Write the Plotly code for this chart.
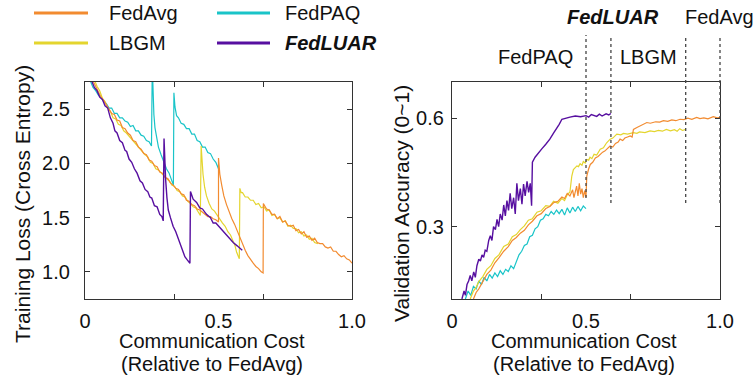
import plotly.graph_objects as go

# ---------------- data ----------------
methods = ["FedAvg", "FedPAQ", "LBGM", "FedLUAR"]
colors = {"FedAvg": "#F28B30", "FedPAQ": "#19C4C8", "LBGM": "#E4D52E", "FedLUAR": "#570FA0"}

# Training loss vs communication cost (left panel)
loss_fedavg_x = [0.030, 0.040, 0.050, 0.060, 0.070, 0.080, 0.090, 0.100, 0.110, 0.120, 0.130, 0.140, 0.150, 0.160,
                 0.170, 0.180, 0.190, 0.200, 0.210, 0.220, 0.230, 0.240, 0.250, 0.260, 0.270, 0.280, 0.290, 0.300,
                 0.310, 0.320, 0.330, 0.340, 0.350, 0.360, 0.370, 0.380, 0.390, 0.400, 0.410, 0.420, 0.430, 0.440,
                 0.450, 0.460, 0.470, 0.480, 0.490, 0.500,
                 0.500, 0.505, 0.512, 0.520, 0.530, 0.540, 0.550, 0.560, 0.570, 0.580, 0.590, 0.600, 0.610, 0.620,
                 0.630, 0.640, 0.650, 0.660, 0.667,
                 0.668, 0.680, 0.690, 0.700, 0.710, 0.720, 0.730, 0.740, 0.750, 0.760, 0.770, 0.780, 0.790, 0.800,
                 0.810, 0.820, 0.830, 0.840, 0.850, 0.860, 0.870, 0.880, 0.890, 0.900, 0.910, 0.920, 0.930, 0.940,
                 0.950, 0.960, 0.970, 0.980, 0.990, 1.000]
loss_fedavg_y = [2.76, 2.71, 2.67, 2.61, 2.58, 2.54, 2.51, 2.46, 2.45, 2.40, 2.39, 2.33, 2.32, 2.28,
                 2.26, 2.21, 2.20, 2.15, 2.13, 2.09, 2.08, 2.03, 2.02, 1.98, 1.97, 1.92, 1.91, 1.87,
                 1.86, 1.82, 1.80, 1.77, 1.76, 1.72, 1.71, 1.66, 1.65, 1.62, 1.61, 1.58, 1.57, 1.55,
                 1.53, 1.51, 1.51, 1.49, 1.48, 1.46,
                 2.05, 1.90, 1.80, 1.70, 1.62, 1.55, 1.49, 1.44, 1.38, 1.31, 1.26, 1.20, 1.15, 1.11,
                 1.08, 1.05, 1.03, 1.00, 0.99,
                 1.63, 1.58, 1.57, 1.53, 1.53, 1.49, 1.51, 1.46, 1.47, 1.43, 1.42, 1.43, 1.38, 1.39,
                 1.35, 1.37, 1.32, 1.33, 1.29, 1.31, 1.27, 1.26, 1.26, 1.23, 1.22, 1.23, 1.19, 1.19,
                 1.16, 1.14, 1.15, 1.12, 1.11, 1.08]

loss_fedpaq_x = [0.020, 0.030, 0.040, 0.050, 0.060, 0.070, 0.080, 0.090, 0.100, 0.110, 0.120, 0.130, 0.140,
                 0.150, 0.160, 0.170, 0.180, 0.190, 0.200, 0.210, 0.220, 0.230, 0.240, 0.249,
                 0.252, 0.255, 0.258, 0.262, 0.268, 0.275, 0.285, 0.295, 0.305, 0.315, 0.325, 0.331,
                 0.333, 0.337, 0.343, 0.350, 0.360, 0.370, 0.380, 0.390, 0.400, 0.410, 0.420, 0.430,
                 0.440, 0.450, 0.460, 0.470, 0.480, 0.490, 0.500]
loss_fedpaq_y = [2.76, 2.70, 2.67, 2.63, 2.61, 2.57, 2.55, 2.51, 2.51, 2.46, 2.46, 2.42, 2.42,
                 2.39, 2.38, 2.34, 2.35, 2.30, 2.30, 2.26, 2.25, 2.21, 2.20, 2.16,
                 2.90, 2.55, 2.45, 2.33, 2.23, 2.15, 2.08, 2.02, 1.95, 1.91, 1.84, 1.80,
                 2.65, 2.52, 2.44, 2.42, 2.37, 2.36, 2.32, 2.32, 2.27, 2.27, 2.21, 2.20,
                 2.15, 2.15, 2.10, 2.09, 2.04, 2.01, 1.95]

loss_lbgm_x = [0.037, 0.045, 0.055, 0.065, 0.075, 0.085, 0.095, 0.105, 0.115, 0.125, 0.135, 0.145, 0.155,
               0.165, 0.175, 0.185, 0.195, 0.205, 0.215, 0.225, 0.235, 0.245, 0.255, 0.265, 0.275, 0.285,
               0.295, 0.305, 0.315, 0.325, 0.335, 0.345, 0.355, 0.365, 0.375, 0.385, 0.395, 0.405, 0.415,
               0.425, 0.432,
               0.435, 0.438, 0.442, 0.448, 0.455, 0.465, 0.475, 0.485, 0.495, 0.505, 0.515, 0.525, 0.535,
               0.545, 0.555, 0.562, 0.568, 0.574, 0.578,
               0.580, 0.585, 0.590, 0.600, 0.610, 0.620, 0.630, 0.640, 0.650, 0.660, 0.670, 0.680, 0.690,
               0.700, 0.710, 0.720, 0.730, 0.740, 0.750, 0.760, 0.770, 0.780, 0.790, 0.800, 0.810, 0.820,
               0.830, 0.840, 0.850, 0.860, 0.872]
loss_lbgm_y = [2.76, 2.71, 2.67, 2.60, 2.57, 2.51, 2.48, 2.42, 2.41, 2.36, 2.35, 2.30, 2.28,
               2.25, 2.22, 2.19, 2.17, 2.13, 2.11, 2.08, 2.06, 2.01, 2.00, 1.95, 1.94, 1.91,
               1.89, 1.86, 1.84, 1.80, 1.79, 1.75, 1.74, 1.70, 1.69, 1.65, 1.63, 1.60, 1.59,
               1.54, 1.52,
               2.16, 2.02, 1.90, 1.78, 1.70, 1.63, 1.58, 1.56, 1.52, 1.49, 1.45, 1.42, 1.37,
               1.34, 1.29, 1.24, 1.18, 1.14, 1.12,
               1.77, 1.73, 1.73, 1.69, 1.69, 1.66, 1.66, 1.62, 1.63, 1.59, 1.60, 1.56, 1.57,
               1.52, 1.53, 1.49, 1.50, 1.46, 1.47, 1.42, 1.43, 1.40, 1.40, 1.36, 1.37, 1.33,
               1.34, 1.30, 1.31, 1.27, 1.26]

loss_fedluar_x = [0.025, 0.035, 0.045, 0.055, 0.065, 0.075, 0.085, 0.095, 0.105, 0.112, 0.120, 0.130, 0.140,
                  0.150, 0.156, 0.165, 0.175, 0.185, 0.195, 0.206, 0.215, 0.225, 0.235, 0.243, 0.250, 0.260,
                  0.270, 0.280, 0.288, 0.293,
                  0.296, 0.299, 0.302, 0.307, 0.312, 0.320, 0.330, 0.340, 0.355, 0.365, 0.374, 0.383, 0.393,
                  0.395, 0.405, 0.418, 0.430, 0.440, 0.455, 0.470, 0.480, 0.490, 0.505, 0.520, 0.535, 0.555,
                  0.570, 0.580, 0.589]
loss_fedluar_y = [2.76, 2.70, 2.67, 2.61, 2.59, 2.53, 2.51, 2.42, 2.37, 2.30, 2.28, 2.21, 2.19,
                  2.12, 2.11, 2.04, 2.01, 1.95, 1.91, 1.84, 1.82, 1.76, 1.74, 1.69, 1.68, 1.61,
                  1.60, 1.53, 1.51, 1.47,
                  2.23, 2.00, 1.85, 1.68, 1.57, 1.50, 1.42, 1.37, 1.27, 1.20, 1.14, 1.11, 1.08,
                  1.74, 1.67, 1.64, 1.59, 1.58, 1.53, 1.50, 1.45, 1.45, 1.41, 1.37, 1.32, 1.27,
                  1.24, 1.22, 1.20]

# Validation accuracy vs communication cost (right panel)
acc_fedavg_x = [0.080, 0.090, 0.100, 0.115, 0.130, 0.145, 0.160, 0.175, 0.193, 0.210, 0.225, 0.240, 0.255,
                0.270, 0.285, 0.300, 0.317, 0.333, 0.350, 0.365, 0.379, 0.395, 0.410, 0.420, 0.430, 0.440,
                0.450, 0.455, 0.460, 0.465, 0.470, 0.475, 0.480, 0.485, 0.490, 0.495, 0.500,
                0.503, 0.510, 0.516, 0.525, 0.535, 0.545, 0.553, 0.562, 0.570, 0.580, 0.590, 0.600, 0.610,
                0.620, 0.627, 0.637, 0.645, 0.655, 0.665, 0.672, 0.677, 0.690, 0.700, 0.715, 0.727, 0.740,
                0.760, 0.775, 0.789, 0.805, 0.820, 0.835, 0.851, 0.865, 0.880, 0.895, 0.913, 0.925, 0.940,
                0.955, 0.975, 0.990, 1.000]
acc_fedavg_y = [0.100, 0.118, 0.128, 0.150, 0.168, 0.180, 0.200, 0.214, 0.232, 0.245, 0.262, 0.270, 0.282,
                0.290, 0.305, 0.315, 0.330, 0.336, 0.350, 0.356, 0.366, 0.370, 0.382, 0.378, 0.392, 0.385,
                0.402, 0.380, 0.395, 0.412, 0.385, 0.420, 0.390, 0.405, 0.380, 0.400, 0.382,
                0.440, 0.460, 0.472, 0.478, 0.490, 0.494, 0.500, 0.506, 0.509, 0.515, 0.523, 0.520, 0.530,
                0.534, 0.542, 0.538, 0.545, 0.548, 0.551, 0.548, 0.569, 0.574, 0.578, 0.582, 0.588, 0.586,
                0.590, 0.589, 0.593, 0.591, 0.595, 0.593, 0.597, 0.596, 0.600, 0.597, 0.602, 0.599, 0.601,
                0.598, 0.604, 0.601, 0.602]

acc_fedpaq_x = [0.050, 0.060, 0.070, 0.080, 0.090, 0.100, 0.110, 0.120, 0.130, 0.140, 0.150, 0.160, 0.170,
                0.180, 0.190, 0.200, 0.210, 0.220, 0.230, 0.240, 0.250, 0.260, 0.270, 0.280, 0.290, 0.300,
                0.310, 0.320, 0.330, 0.340, 0.350, 0.360, 0.370, 0.380, 0.390, 0.400, 0.410, 0.420, 0.430,
                0.440, 0.450, 0.460, 0.470, 0.480, 0.490, 0.500]
acc_fedpaq_y = [0.100, 0.122, 0.110, 0.135, 0.128, 0.150, 0.140, 0.160, 0.150, 0.168, 0.158, 0.172, 0.162,
                0.178, 0.168, 0.182, 0.176, 0.192, 0.184, 0.205, 0.222, 0.232, 0.248, 0.252, 0.272, 0.276,
                0.294, 0.300, 0.318, 0.322, 0.334, 0.330, 0.342, 0.334, 0.346, 0.336, 0.348, 0.332, 0.352,
                0.338, 0.354, 0.342, 0.356, 0.344, 0.357, 0.350]

acc_lbgm_x = [0.068, 0.080, 0.090, 0.100, 0.115, 0.130, 0.145, 0.160, 0.175, 0.193, 0.210, 0.225, 0.240,
              0.255, 0.270, 0.285, 0.300, 0.317, 0.333, 0.350, 0.365, 0.379, 0.395, 0.410, 0.420, 0.430,
              0.440, 0.447, 0.453, 0.460, 0.466, 0.472, 0.478, 0.485, 0.490, 0.497, 0.503, 0.510, 0.515,
              0.522, 0.530, 0.540, 0.553, 0.565, 0.577, 0.590, 0.600, 0.615, 0.630, 0.640, 0.655, 0.677,
              0.690, 0.700, 0.720, 0.739, 0.755, 0.770, 0.785, 0.800, 0.815, 0.830, 0.840, 0.850, 0.860,
              0.872]
acc_lbgm_y = [0.100, 0.122, 0.132, 0.148, 0.162, 0.182, 0.192, 0.212, 0.222, 0.245, 0.252, 0.272, 0.278,
              0.292, 0.302, 0.318, 0.322, 0.340, 0.344, 0.358, 0.356, 0.370, 0.365, 0.378, 0.372, 0.388,
              0.396, 0.440, 0.458, 0.462, 0.468, 0.466, 0.474, 0.470, 0.480, 0.476, 0.486, 0.484, 0.492,
              0.488, 0.500, 0.498, 0.514, 0.518, 0.532, 0.542, 0.545, 0.556, 0.554, 0.558, 0.556, 0.560,
              0.558, 0.562, 0.560, 0.565, 0.563, 0.566, 0.564, 0.569, 0.565, 0.568, 0.564, 0.571, 0.566,
              0.569]

acc_fedluar_x = [0.037, 0.045, 0.050, 0.056, 0.062, 0.068, 0.074, 0.081, 0.087, 0.093, 0.100, 0.106, 0.112,
                 0.118, 0.124, 0.130, 0.137, 0.143, 0.149, 0.155, 0.162, 0.168, 0.174, 0.180, 0.187, 0.193,
                 0.199, 0.205, 0.211, 0.217, 0.223, 0.230, 0.236, 0.242, 0.248, 0.255, 0.261, 0.267, 0.273,
                 0.280, 0.286, 0.292, 0.297,
                 0.300, 0.310, 0.320, 0.335, 0.350, 0.365, 0.380, 0.390, 0.400, 0.410, 0.425, 0.440, 0.460,
                 0.480, 0.500, 0.510, 0.520, 0.540, 0.550, 0.560, 0.575, 0.585, 0.593]
acc_fedluar_y = [0.100, 0.122, 0.110, 0.140, 0.150, 0.165, 0.150, 0.175, 0.160, 0.192, 0.210, 0.205, 0.222,
                 0.215, 0.235, 0.232, 0.262, 0.275, 0.262, 0.300, 0.292, 0.320, 0.300, 0.335, 0.318, 0.360,
                 0.330, 0.372, 0.345, 0.392, 0.350, 0.380, 0.335, 0.420, 0.372, 0.405, 0.362, 0.418, 0.385,
                 0.425, 0.395, 0.420, 0.358,
                 0.478, 0.492, 0.502, 0.515, 0.528, 0.542, 0.560, 0.570, 0.583, 0.597, 0.601, 0.603, 0.606,
                 0.604, 0.607, 0.603, 0.610, 0.605, 0.611, 0.606, 0.612, 0.609, 0.613]

# total communication cost of each method (dashed markers on the right panel)
final_cost = {"FedPAQ": 0.500, "FedLUAR": 0.593, "LBGM": 0.872, "FedAvg": 1.000}

x_tick_vals = [0, 0.5, 1.0]
x_tick_text = ["0", "0.5", "1.0"]
x_minor_ticks = [1 / 3, 2 / 3]
loss_ticks = [1.0, 1.5, 2.0, 2.5]
loss_tick_text = ["1.0", "1.5", "2.0", "2.5"]
acc_ticks = [0.3, 0.6]
acc_tick_text = ["0.3", "0.6"]

# ---------------- figure ----------------
W, H = 756, 389
FONT = "Liberation Sans, Arial, Helvetica, sans-serif"
INK = "#111111"
FRAME = "#333333"

fig = go.Figure()

loss = {
    "FedPAQ": (loss_fedpaq_x, loss_fedpaq_y),
    "LBGM": (loss_lbgm_x, loss_lbgm_y),
    "FedAvg": (loss_fedavg_x, loss_fedavg_y),
    "FedLUAR": (loss_fedluar_x, loss_fedluar_y),
}
acc = {
    "FedPAQ": (acc_fedpaq_x, acc_fedpaq_y),
    "LBGM": (acc_lbgm_x, acc_lbgm_y),
    "FedAvg": (acc_fedavg_x, acc_fedavg_y),
    "FedLUAR": (acc_fedluar_x, acc_fedluar_y),
}
for m, (xs, ys) in loss.items():
    fig.add_trace(go.Scatter(x=xs, y=ys, mode="lines", name=m, showlegend=False,
                             line=dict(color=colors[m], width=1.4 if m == "FedLUAR" else 1.2),
                             xaxis="x", yaxis="y"))
for m, (xs, ys) in acc.items():
    fig.add_trace(go.Scatter(x=xs, y=ys, mode="lines", name=m, showlegend=False,
                             line=dict(color=colors[m], width=1.4 if m == "FedLUAR" else 1.2),
                             xaxis="x2", yaxis="y2"))

LX0, LX1 = 85, 352
RX0, RX1 = 452, 720
PT, PB = 82, 299


def px(v):
    return v / W


def py(v):
    return 1 - v / H


axis_common = dict(showline=True, mirror="ticks", linecolor=FRAME, linewidth=1.2, automargin=False,
                   showgrid=False, zeroline=False, tickfont=dict(family=FONT, size=20, color=INK))
xr = [0, 1]
xaxis_common = dict(axis_common, range=xr, tickmode="array", tickvals=x_tick_vals, ticktext=x_tick_text,
                    ticks="", ticklabelstandoff=4,
                    minor=dict(tickmode="array", tickvals=x_minor_ticks, ticks="inside", ticklen=5,
                               tickcolor=FRAME, tickwidth=1.2))

fig.update_layout(
    width=W, height=H, margin=dict(l=0, r=0, t=0, b=0, autoexpand=False),
    paper_bgcolor="white", plot_bgcolor="white",
    font=dict(family=FONT, size=20, color=INK),
    xaxis=dict(xaxis_common, domain=[px(LX0), px(LX1)], anchor="y"),
    yaxis=dict(axis_common, domain=[py(PB), py(PT)], range=[0.75, 2.75], tickmode="array",
               tickvals=loss_ticks, ticktext=loss_tick_text, ticks="inside", ticklen=5,
               tickcolor=FRAME, tickwidth=1.2, ticklabelstandoff=10, anchor="x"),
    xaxis2=dict(xaxis_common, domain=[px(RX0), px(RX1)], anchor="y2"),
    yaxis2=dict(axis_common, domain=[py(PB), py(PT)], range=[0.1, 0.7], tickmode="array",
                tickvals=acc_ticks, ticktext=acc_tick_text, ticks="inside", ticklen=5,
                tickcolor=FRAME, tickwidth=1.2, ticklabelstandoff=3, anchor="x2"),
    showlegend=False,
)

ann = []
# axis titles
ann.append(dict(text="Training Loss (Cross Entropy)", textangle=-90, x=px(22), y=py(204),
                font=dict(size=21)))
ann.append(dict(text="Validation Accuracy (0~1)", textangle=-90, x=px(401), y=py(204),
                font=dict(size=21)))
for cx in (212, 584):
    ann.append(dict(text="Communication Cost", x=px(cx), y=py(341)))
    ann.append(dict(text="(Relative to FedAvg)", x=px(cx), y=py(364)))

# dashed markers for final communication cost
label_pos = {"FedPAQ": ("right", -11, 57), "FedLUAR": ("center", 2, 17),
             "LBGM": ("right", -7, 57), "FedAvg": ("center", -1, 17)}
shapes = []
for m, c in final_cost.items():
    frac = (c - xr[0]) / (xr[1] - xr[0])
    y_bot = 198 if m == "FedPAQ" else 203
    shapes.append(dict(type="line", xref="x2 domain", yref="paper", x0=frac, x1=frac,
                       y0=py(y_bot), y1=py(35), line=dict(color="#444444", width=1.3, dash="3px,3px")))
    anchor, dx, ty = label_pos[m]
    label = "<b><i>FedLUAR</i></b>" if m == "FedLUAR" else m
    ann.append(dict(text=label, xref="x2 domain", x=frac, xshift=dx, xanchor=anchor,
                    yref="paper", y=py(ty), yanchor="middle"))

# legend (2 x 2)
leg = [("FedAvg", 34, 88, 107, 13), ("FedPAQ", 217, 270, 283, 13),
       ("LBGM", 34, 88, 107, 43), ("FedLUAR", 217, 270, 283, 43)]
for m, a, b, t, yy in leg:
    shapes.append(dict(type="line", xref="paper", yref="paper", x0=px(a), x1=px(b), y0=py(yy), y1=py(yy),
                       line=dict(color=colors[m], width=3)))
    label = "<b><i>FedLUAR</i></b>" if m == "FedLUAR" else m
    ann.append(dict(text=label, xref="paper", yref="paper", x=px(t), y=py(yy), xanchor="left",
                    yanchor="middle"))

for a in ann:
    a.setdefault("xref", "paper")
    a.setdefault("yref", "paper")
    a.setdefault("xanchor", "center")
    a.setdefault("yanchor", "middle")
    a.setdefault("showarrow", False)
    a.setdefault("font", dict(size=20))
    a["font"] = dict(family=FONT, color=INK, **a["font"])

fig.update_layout(annotations=ann, shapes=shapes)
fig.write_html("out.html", config={"displayModeBar": False},
               post_script="document.body.style.margin='0';document.body.style.overflow='hidden';")
